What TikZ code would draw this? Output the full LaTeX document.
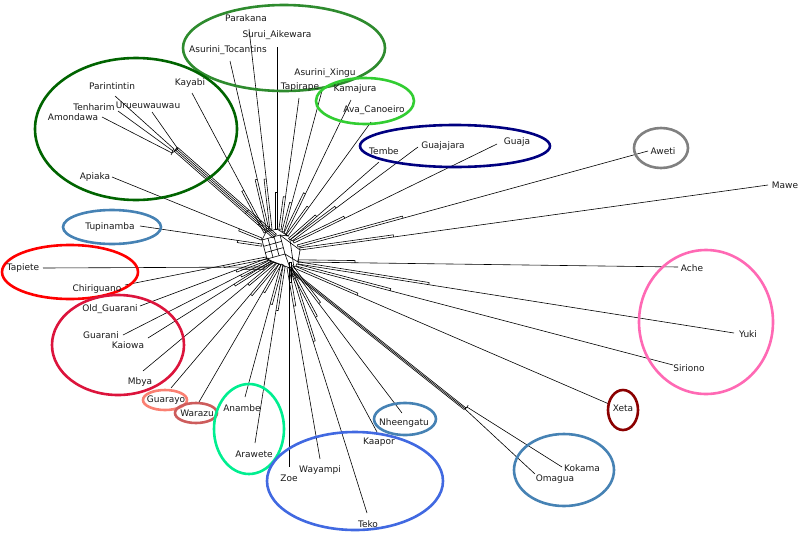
\documentclass[tikz,border=0pt]{standalone}
\usepackage{fontspec}
\setmainfont{DejaVu Sans}
\usetikzlibrary{calc}
\definecolor{cTop}{HTML}{2E8B2E}
\definecolor{cKay}{HTML}{006400}
\definecolor{cKam}{HTML}{32CD32}
\definecolor{cNavy}{HTML}{000080}
\definecolor{cGray}{HTML}{808080}
\definecolor{cSteel}{HTML}{4682B4}
\definecolor{cRed}{HTML}{FF0000}
\definecolor{cCrim}{HTML}{DC143C}
\definecolor{cSalm}{HTML}{FA8072}
\definecolor{cIRed}{HTML}{CD5C5C}
\definecolor{cMint}{HTML}{00EE90}
\definecolor{cRoyal}{HTML}{4169E1}
\definecolor{cPink}{HTML}{FF69B4}
\definecolor{cDRed}{HTML}{8B0000}
\begin{document}
\begin{tikzpicture}[x=1pt,y=-1pt,
  lbl/.style={font=\fontsize{9}{10}\selectfont, text=black!90, inner sep=0pt, anchor=center},
  edge/.style={line width=0.6pt, draw=black},
  ring/.style={line width=2.6pt}]
\useasboundingbox (0,0) rectangle (800,536);

% ---- leaf edges (key / outer end / inner end / twin fraction)
\foreach \kk/\ex/\ey/\ix/\iy/\ff in {
  Parakana/249/29/272/229/0.25,
  Surui/277/47/277/229/0.2,
  AsTo/230/61/269/230/0.3,
  AsXi/323/87/284/232/0.2,
  Tapirape/299/98/281/230/0.25,
  Kamajura/351/100/286/234/0.3,
  Ava/371/122/288/236/0.25,
  Tembe/379/162/290/240/0.3,
  Guajajara/418/147/292/241/0.35,
  Guaja/497/144/294/243/0.25,
  Aweti/648/151/298/247/0.3,
  Mawe/768/185/300/250/0.2,
  Ache/678/267/298/262/0.15,
  Yuki/734/333/298/264/0.3,
  Siriono/673/365/296/266/0.25,
  Xeta/609/404/294/268/0.2,
  Teko/367/513/290/268/0.3,
  Nheengatu/402/413/291/267/0.25,
  Kaapor/377/432/289/268/0.3,
  Wayampi/320/459/287/268/0.2,
  Zoe/289/467/289/262/0.1,
  Arawete/255/443/283/266/0.25,
  Anambe/245/397/281/264/0.3,
  Warazu/199/402/279/264/0.2,
  Guarayo/171/388/277/263/0.25,
  Mbya/143/371/274/262/0.2,
  Kaiowa/148/338/271/261/0.3,
  Guarani/123/335/270/260/0.2,
  OldGuarani/140/306/268/258/0.25,
  Chiriguano/125/285/266/257/0.3,
  Tapiete/43/268/264/267/0.1,
  Tupinamba/140/226/262/244/0.2,
  Apiaka/112/177/262/238/0.15,
  Kayabi/192/93/266/232/0.3,
  Amondawa/102/117/172/153/0.0,
  Tenharim/118/111/173/151/0.0,
  Parintintin/115/96/174/149/0.0,
  Urueu/152/112/178/149/0.0,
  Kokama/562/467/467/407/0.0,
  Omagua/535/474/465/409/0.0}{
  \coordinate (e-\kk) at (\ex,\ey);
  \coordinate (i-\kk) at (\ix,\iy);
  \draw[edge] (i-\kk) -- (e-\kk);
  \draw[edge] (i-\kk) -- ($(i-\kk)!2.2pt!90:(e-\kk)$) -- ($(i-\kk)!\ff!(e-\kk)!2.2pt!90:(e-\kk)$) -- ($(i-\kk)!\ff!(e-\kk)$);
}

% ---- Tupi-Kawahib bundle
\coordinate (TK) at (174,151);
\coordinate (TB) at (273,238);
\foreach \o in {0,1.7,3.4,5.1}{
  \draw[edge] ($(TK)!\o pt!90:(TB)$) -- ($(TB)!\o pt!-90:(TK)$);
}
\draw[edge] (TK) -- ($(TK)!5.1pt!90:(TB)$);
\draw[edge] ($(TK)!0.72!(TB)$) -- ($(TK)!0.72!(TB)!5.1pt!90:(TB)$);
\draw[edge] ($(TK)!0.85!(TB)$) -- ($(TK)!0.85!(TB)!5.1pt!90:(TB)$);
\draw[edge] (TB) -- ($(TB)!5.1pt!-90:(TK)$);
\draw[edge] (i-Amondawa) -- (i-Urueu);

% ---- Kokama-Omagua bundle
\coordinate (KO) at (466,408);
\coordinate (KB) at (292,270);
\foreach \o in {0,1.2,2.4}{
  \draw[edge] ($(KO)!\o pt!90:(KB)$) -- ($(KB)!\o pt!-90:(KO)$);
}
\draw[edge] (i-Kokama) -- (i-Omagua);

% ---- central web
\draw[edge] (262,240) -- (280,235) -- (285,254) -- (267,259) -- cycle;
\draw[edge] (268,238.4) -- (273,257.4);
\draw[edge] (274,236.6) -- (279,255.6);
\draw[edge] (263.7,246.3) -- (281.7,241.3);
\draw[edge] (265.3,252.6) -- (283.3,247.6);
\draw[edge] (280,235) -- (300,250) -- (298,262) -- (285,254);
\draw[edge] (285,254) -- (290,268) -- (274,262) -- (267,259);
\draw[edge] (262,240) -- (266,232) -- (277,229) -- (288,236) -- (280,235);
\draw[edge] (290,240) -- (294,268);
\draw[edge] (264,267) -- (274,262);

% ---- group ellipses
\draw[ring, cTop]   (284,48)  ellipse [x radius=101pt, y radius=43pt];
\draw[ring, cKay]   (136,129) ellipse [x radius=101pt, y radius=71pt];
\draw[ring, cKam]   (365,101) ellipse [x radius=49pt,  y radius=23pt];
\draw[ring, cNavy]  (455,146) ellipse [x radius=95pt,  y radius=21pt];
\draw[ring, cGray]  (661,148) ellipse [x radius=27pt,  y radius=20pt];
\draw[ring, cSteel] (112,227) ellipse [x radius=49pt,  y radius=17pt];
\draw[ring, cRed]   (70,272)  ellipse [x radius=68pt,  y radius=27pt];
\draw[ring, cCrim]  (118,345) ellipse [x radius=66pt,  y radius=50pt];
\draw[ring, cSalm]  (165,400) ellipse [x radius=22pt,  y radius=10pt];
\draw[ring, cIRed]  (196,413) ellipse [x radius=21pt,  y radius=10pt];
\draw[ring, cMint]  (249,429) ellipse [x radius=35pt,  y radius=45pt];
\draw[ring, cRoyal] (355,481) ellipse [x radius=88pt,  y radius=49pt];
\draw[ring, cSteel] (405,419) ellipse [x radius=31pt,  y radius=16pt];
\draw[ring, cPink]  (706,322) ellipse [x radius=67pt,  y radius=72pt];
\draw[ring, cDRed]  (623,410) ellipse [x radius=15pt,  y radius=20pt];
\draw[ring, cSteel] (564,470) ellipse [x radius=50pt,  y radius=36pt];

% ---- labels
\foreach \kk/\txt/\lx/\ly in {
  Parakana/Parakana/246/18,
  Surui/Surui\_Aikewara/277/35,
  AsTo/Asurini\_Tocantins/228/50,
  AsXi/Asurini\_Xingu/325/73,
  Tapirape/Tapirape/300/87,
  Kamajura/Kamajura/355/89,
  Ava/Ava\_Canoeiro/374/110,
  Tembe/Tembe/384/151,
  Guajajara/Guajajara/443/146,
  Guaja/Guaja/517/142,
  Aweti/Aweti/663/151,
  Mawe/Mawe/785/185,
  Ache/Ache/692/268,
  Yuki/Yuki/748/334,
  Siriono/Siriono/689/368,
  Xeta/Xeta/623/408,
  Kokama/Kokama/582/468,
  Omagua/Omagua/555/479,
  Teko/Teko/368/524,
  Nheengatu/Nheengatu/404/423,
  Kaapor/Kaapor/379/442,
  Wayampi/Wayampi/320/470,
  Zoe/Zoe/289/478,
  Arawete/Arawete/254/454,
  Anambe/Anambe/242/408,
  Warazu/Warazu/197/413,
  Guarayo/Guarayo/166/400,
  Mbya/Mbya/140/382,
  Kaiowa/Kaiowa/128/345,
  Guarani/Guarani/101/335,
  OldGuarani/Old\_Guarani/110/309,
  Chiriguano/Chiriguano/97/289,
  Tapiete/Tapiete/23/268,
  Tupinamba/Tupinamba/110/227,
  Apiaka/Apiaka/95/177,
  Kayabi/Kayabi/190/83,
  Amondawa/Amondawa/73/117,
  Tenharim/Tenharim/94/107,
  Parintintin/Parintintin/112/86,
  Urueu/Urueuwauwau/148/105}{
  \node[lbl] (L-\kk) at (\lx,\ly) {\txt};
}
\end{tikzpicture}
\end{document}
